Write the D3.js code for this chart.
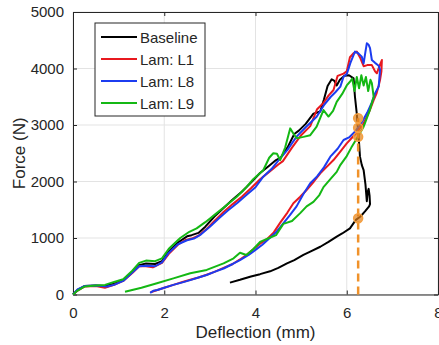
<!DOCTYPE html>
<html>
<head>
<meta charset="utf-8">
<script src="https://cdn.jsdelivr.net/npm/d3@7"></script>
<style>
  body { margin: 0; background: #fff; }
  text { font-family: "Liberation Sans", Arial, sans-serif; fill: #262626; }
</style>
</head>
<body>
<div id="chart"></div>
<script>
// deflection (mm), force (N)
const baseline = [[0,0],[0.1,80],[0.25,150],[0.5,160],[0.7,150],[0.9,190],[1.1,250],[1.3,400],[1.45,520],[1.6,550],[1.8,540],[1.95,590],
  [2.1,760],[2.3,920],[2.5,1030],[2.6,1050],[2.75,1090],[2.9,1200],[3.1,1380],[3.3,1530],[3.5,1680],[3.7,1820],[3.9,1980],
  [4.1,2150],[4.3,2280],[4.45,2380],[4.55,2420],[4.7,2600],[4.85,2840],[4.95,2900],[5.1,3020],[5.27,3200],[5.42,3240],
  [5.5,3450],[5.58,3690],[5.67,3810],[5.73,3780],[5.78,3700],[5.85,3800],[5.95,3870],[6.05,3880],[6.15,3825],
  [6.18,3500],[6.22,3200],[6.26,2800],[6.29,2440],[6.33,2290],[6.37,2200],[6.41,1950],[6.44,1650],[6.46,1820],[6.48,1870],
  [6.5,1750],[6.51,1600],[6.49,1560],[6.4,1470],[6.3,1380],[6.2,1320],[6.07,1170],[5.9,1080],[5.78,1025],[5.6,930],
  [5.42,845],[5.2,760],[5.05,700],[4.85,610],[4.69,550],[4.5,470],[4.32,410],[4.1,360],[3.9,320],[3.66,260],[3.44,210]];

const lamL1 = [[0,0],[0.1,70],[0.25,140],[0.5,150],[0.7,120],[0.9,170],[1.1,240],[1.3,380],[1.45,500],[1.6,500],[1.75,480],[1.95,560],
  [2.1,720],[2.3,880],[2.45,960],[2.6,990],[2.75,1040],[2.9,1140],[3.1,1300],[3.3,1460],[3.5,1600],[3.7,1730],[3.9,1880],
  [4.1,2040],[4.3,2170],[4.5,2300],[4.6,2360],[4.8,2600],[5.0,2820],[5.2,2980],[5.35,3280],[5.49,3390],[5.6,3520],[5.71,3620],
  [5.8,3870],[5.93,3910],[6.0,3950],[6.07,4200],[6.15,4270],[6.22,4300],[6.3,4180],[6.37,4040],[6.45,4060],[6.55,4060],
  [6.62,3950],[6.66,3915],[6.72,4050],[6.77,4150],[6.76,3950],[6.73,3800],[6.7,3700],[6.65,3550],[6.59,3440],[6.5,3250],
  [6.37,3030],[6.2,2850],[6.0,2675],[5.85,2520],[5.71,2380],[5.55,2250],[5.42,2145],[5.28,2000],[5.12,1850],[4.98,1730],
  [4.83,1615],[4.7,1450],[4.55,1280],[4.4,1100],[4.25,980],[4.1,900],[3.95,800],[3.8,700],[3.66,620],[3.5,540],[3.3,470],
  [3.1,400],[2.93,350],[2.75,300],[2.57,260],[2.4,220],[2.2,170],[2.0,120],[1.85,80],[1.7,40]];

const lamL8 = [[0,0],[0.1,90],[0.25,150],[0.5,160],[0.75,140],[0.9,170],[1.1,240],[1.3,390],[1.45,500],[1.6,510],[1.8,500],[1.95,570],
  [2.1,740],[2.3,890],[2.5,960],[2.65,990],[2.8,1060],[3.0,1200],[3.2,1350],[3.4,1490],[3.6,1620],[3.8,1760],[4.0,1900],
  [4.17,2085],[4.35,2220],[4.5,2370],[4.7,2560],[4.9,2795],[5.1,2960],[5.34,3145],[5.5,3350],[5.65,3500],[5.75,3580],
  [5.86,3680],[5.93,3855],[6.0,3900],[6.08,4100],[6.18,4300],[6.25,4270],[6.33,4210],[6.37,4090],[6.41,4300],[6.44,4445],
  [6.48,4420],[6.51,4360],[6.55,4150],[6.62,4100],[6.7,4050],[6.73,3975],[6.7,3680],[6.62,3560],[6.55,3400],[6.45,3220],
  [6.33,3050],[6.2,2900],[6.05,2780],[5.93,2735],[5.8,2580],[5.64,2440],[5.5,2250],[5.35,2090],[5.2,1970],[5.05,1780],
  [4.9,1560],[4.75,1400],[4.6,1250],[4.45,1100],[4.3,990],[4.15,880],[4.0,790],[3.85,700],[3.66,610],[3.5,540],[3.3,460],
  [3.1,400],[2.93,345],[2.75,300],[2.57,255],[2.4,215],[2.2,170],[2.0,120],[1.85,80],[1.76,65],[1.69,30]];

const lamL9 = [[0,0],[0.1,70],[0.25,140],[0.5,160],[0.7,170],[0.9,220],[1.1,270],[1.3,420],[1.45,560],[1.6,600],[1.8,590],[1.95,640],
  [2.1,810],[2.35,1000],[2.55,1110],[2.71,1170],[2.9,1280],[3.15,1440],[3.35,1570],[3.59,1730],[3.8,1900],[3.95,2040],
  [4.17,2200],[4.3,2420],[4.39,2500],[4.47,2490],[4.54,2380],[4.65,2600],[4.76,2940],[4.83,2850],[4.9,2765],[5.05,2790],
  [5.2,2820],[5.34,2970],[5.49,3265],[5.6,3150],[5.7,3250],[5.78,3410],[5.9,3550],[6.0,3700],[6.07,3765],[6.12,3820],
  [6.17,3600],[6.22,3850],[6.27,3650],[6.32,3880],[6.37,3700],[6.42,3850],[6.47,3600],[6.52,3800],[6.55,3740],[6.59,3500],
  [6.5,3250],[6.37,2970],[6.25,2800],[6.1,2600],[6.0,2450],[5.85,2280],[5.78,2170],[5.65,2050],[5.49,1900],[5.4,1760],
  [5.27,1640],[5.12,1560],[4.98,1440],[4.8,1300],[4.61,1250],[4.45,1050],[4.3,1000],[4.1,930],[3.95,800],[3.8,700],
  [3.66,740],[3.52,640],[3.3,550],[2.93,435],[2.57,375],[2.2,285],[1.84,200],[1.5,120],[1.14,50]];

const seriesNames = ['Baseline', 'Lam: L1', 'Lam: L8', 'Lam: L9'];
const seriesColors = ['#000000', '#e8191f', '#1c3cf0', '#14b814'];
const seriesData = [baseline, lamL1, lamL8, lamL9];

// failure markers on the dashed line
const markX = 6.25;
const markForces = [3120, 2950, 2790, 1350];

const xTicks = [0, 2, 4, 6, 8];
const yTicks = [0, 1000, 2000, 3000, 4000, 5000];

const W = 439, H = 345;
const margin = { top: 12, right: 1, bottom: 50.5, left: 73 };
const width = W - margin.left - margin.right;
const height = H - margin.top - margin.bottom;

const svg = d3.select('#chart').append('svg')
  .attr('width', W)
  .attr('height', H);

const g = svg.append('g')
  .attr('transform', `translate(${margin.left},${margin.top})`);

const x = d3.scaleLinear().domain([0, 8]).range([0, width]);
const y = d3.scaleLinear().domain([0, 5000]).range([height, 0]);

// grid
g.append('g')
  .selectAll('line')
  .data(xTicks)
  .join('line')
  .attr('x1', d => x(d)).attr('x2', d => x(d))
  .attr('y1', 0).attr('y2', height)
  .attr('stroke', '#e3e3e3').attr('stroke-width', 1);

g.append('g')
  .selectAll('line')
  .data(yTicks)
  .join('line')
  .attr('x1', 0).attr('x2', width)
  .attr('y1', d => y(d)).attr('y2', d => y(d))
  .attr('stroke', '#e3e3e3').attr('stroke-width', 1);

// axes (ticks inward, box on)
const fmt = d3.format('d');
const xAxis = g.append('g')
  .attr('transform', `translate(0,${height})`)
  .call(d3.axisBottom(x).tickValues(xTicks).tickFormat(fmt).tickSizeInner(-4).tickSizeOuter(0).tickPadding(13));
const yAxis = g.append('g')
  .call(d3.axisLeft(y).tickValues(yTicks).tickFormat(fmt).tickSizeInner(-4).tickSizeOuter(0).tickPadding(9));
const xTop = g.append('g')
  .call(d3.axisTop(x).tickValues(xTicks).tickSizeInner(-4).tickSizeOuter(0).tickFormat(''));
const yRight = g.append('g')
  .attr('transform', `translate(${width},0)`)
  .call(d3.axisRight(y).tickValues(yTicks).tickSizeInner(-4).tickSizeOuter(0).tickFormat(''));

[xAxis, yAxis, xTop, yRight].forEach(a => {
  a.selectAll('path').attr('stroke', '#262626').attr('stroke-width', 1);
  a.selectAll('line').attr('stroke', '#262626');
  a.selectAll('text').attr('font-size', 15).attr('fill', '#262626')
    .attr('font-family', '"Liberation Sans", Arial, sans-serif');
});

// curves
const line = d3.line()
  .x(d => x(d[0]))
  .y(d => y(d[1]));

const plot = g.append('g');
seriesData.forEach((s, i) => {
  plot.append('path')
    .datum(s)
    .attr('fill', 'none')
    .attr('stroke', seriesColors[i])
    .attr('stroke-width', 2)
    .attr('stroke-linejoin', 'round')
    .attr('d', line);
});

// dashed marker line + points
g.append('line')
  .attr('x1', x(markX)).attr('x2', x(markX))
  .attr('y1', y(0)).attr('y2', y(d3.max(markForces)))
  .attr('stroke', '#f0922a')
  .attr('stroke-width', 2.5)
  .attr('stroke-dasharray', '8,5');

g.selectAll('circle')
  .data(markForces)
  .join('circle')
  .attr('cx', x(markX))
  .attr('cy', d => y(d))
  .attr('r', 4.5)
  .attr('fill', '#e07f1a')
  .attr('fill-opacity', 0.7)
  .attr('stroke', '#f5a040')
  .attr('stroke-width', 1.5);

// axis labels
svg.append('text')
  .attr('x', margin.left + width / 2)
  .attr('y', 338)
  .attr('text-anchor', 'middle')
  .attr('font-size', 17)
  .text('Deflection (mm)');

svg.append('text')
  .attr('transform', `translate(25,${margin.top + height / 2}) rotate(-90)`)
  .attr('text-anchor', 'middle')
  .attr('font-size', 17)
  .text('Force (N)');

// legend
const leg = svg.append('g').attr('transform', 'translate(95,23)');
leg.append('rect')
  .attr('width', 110).attr('height', 93)
  .attr('fill', '#fff')
  .attr('stroke', '#262626').attr('stroke-width', 1);
seriesNames.forEach((name, i) => {
  const cy = 14 + i * 22;
  leg.append('line')
    .attr('x1', 6).attr('x2', 42)
    .attr('y1', cy).attr('y2', cy)
    .attr('stroke', seriesColors[i]).attr('stroke-width', 2);
  leg.append('text')
    .attr('x', 45).attr('y', cy + 5.5)
    .attr('font-size', 15)
    .text(name);
});
</script>
</body>
</html>
